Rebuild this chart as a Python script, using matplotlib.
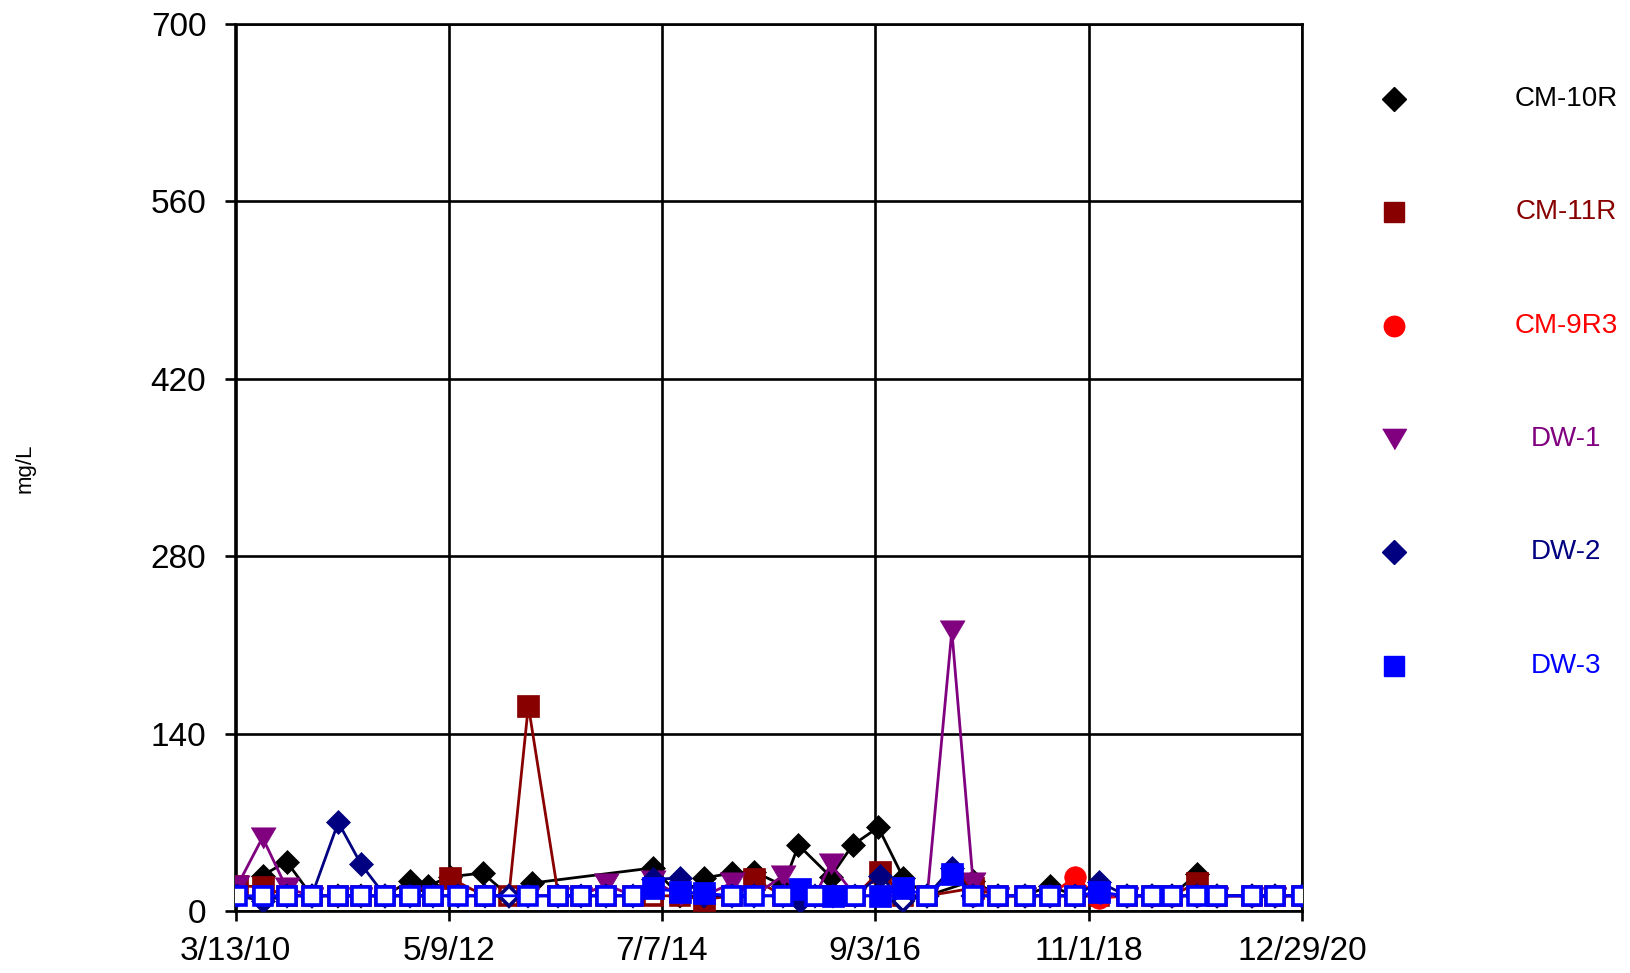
import numpy as np
import pandas as pd
import matplotlib
matplotlib.use("Agg")
import matplotlib.pyplot as plt
from matplotlib.lines import Line2D

plt.rcParams["font.family"] = ["Liberation Sans", "DejaVu Sans"]

# ---------------------------------------------------------------------------
# DATA  (values in mg/L, "<x" = non-detect plotted hollow at x)
# ---------------------------------------------------------------------------

cm10r_dates = ["2010-06-21", "2010-09-18", "2010-12-20", "2011-03-28", "2011-06-20",
               "2011-09-17", "2011-12-18", "2012-02-24", "2012-05-14", "2012-09-12",
               "2012-12-18", "2013-03-12", "2014-06-03", "2014-09-12", "2014-12-11",
               "2015-03-22", "2015-06-13", "2015-09-29", "2015-11-24", "2016-03-22",
               "2016-06-11", "2016-09-14", "2016-12-16", "2017-03-14", "2017-08-31",
               "2017-12-02", "2018-03-10", "2018-06-11", "2018-09-11", "2018-12-10",
               "2019-03-21", "2019-06-22", "2019-09-04", "2019-12-05", "2020-02-17",
               "2020-06-26", "2020-09-20", "2020-12-29"]
cm10r_vals = [28, 39, "<12", "<12", "<12", "<12", 24, 20, 27, 30,
              "<12", 22, 34, "<12", 26, 30, 31, 20, 52, 27,
              52, 66, 26, "<12", 24, "<12", "<12", 20, "<12", "<12",
              "<12", "<12", "<12", 29, "<12", "<12", "<12", "<12"]

cm11r_dates = ["2010-03-20", "2010-06-21", "2010-09-18", "2010-12-20", "2011-03-28",
               "2011-06-20", "2011-09-17", "2011-12-18", "2012-03-12", "2012-05-14",
               "2012-09-19", "2012-12-18", "2013-02-28", "2013-06-19", "2013-09-10",
               "2013-12-12", "2014-03-21", "2014-06-03", "2014-09-12", "2014-12-11",
               "2015-03-22", "2015-06-13", "2015-09-29", "2015-11-30", "2016-01-24",
               "2016-04-01", "2016-06-20", "2016-09-20", "2016-12-16", "2017-03-14",
               "2017-08-31", "2017-12-02", "2018-03-10", "2018-06-11",
               "2018-09-11", "2018-12-10", "2019-03-21", "2019-06-22", "2019-09-04",
               "2019-12-05", "2020-02-17", "2020-06-26", "2020-09-20", "2020-12-29"]
cm11r_vals = [20, 19, "<12", "<12", "<12", "<12", "<12", "<12", "<12", 26,
              "<12", "<12", 162, "<12", "<12", "<12", "<12", "<12", "<12", 9,
              "<12", 25, "<12", "<12", "<12", "<12", "<12", 31, "<12", "<12",
              18, "<12", "<12", "<12", "<12", "<12", "<12", "<12", "<12",
              22, "<12", "<12", "<12", "<12"]

cm9r3_dates = ["2017-08-31", "2017-12-02", "2018-03-10", "2018-06-11", "2018-09-11",
               "2018-12-10", "2019-03-21", "2019-06-22", "2019-09-04", "2019-12-05",
               "2020-02-17", "2020-06-26", "2020-09-20", "2020-12-29"]
cm9r3_vals = ["<12", "<12", "<12", "<12", 27, 10,
              "<12", "<12", "<12", "<12", "<12", "<12", "<12", "<12"]

dw1_dates = ["2010-03-20", "2010-06-21", "2010-09-18", "2010-12-20", "2011-03-28",
             "2011-06-20", "2011-09-17", "2011-12-18", "2012-03-12", "2012-06-12",
             "2012-09-19", "2013-02-28", "2013-06-19", "2013-09-10", "2013-12-12",
             "2014-03-21", "2014-06-03", "2014-09-12", "2014-12-11", "2015-03-22",
             "2015-06-13", "2015-09-29", "2015-11-30", "2016-01-24", "2016-03-22",
             "2016-06-20", "2016-09-20", "2016-12-16", "2017-03-14", "2017-06-13",
             "2017-08-31", "2017-12-02", "2018-03-10", "2018-06-11", "2018-09-11",
             "2018-12-10", "2019-03-21", "2019-06-22", "2019-09-04", "2019-12-05",
             "2020-02-17", "2020-06-26", "2020-09-20", "2020-12-29"]
dw1_vals = [20, 58, 18, "<12", "<12", "<12", "<12", "<12", "<12", "<12",
            "<12", "<12", "<12", "<12", 21, "<12", 24, "<12", "<12", 22,
            "<12", 28, "<12", "<12", 37, "<12", "<12", "<12", "<12", 221,
            22, "<12", "<12", "<12", "<12", "<12", "<12", "<12", "<12", "<12",
            "<12", "<12", "<12", "<12"]

dw2_dates = ["2010-03-20", "2010-06-21", "2010-09-18", "2010-12-20", "2011-03-28",
             "2011-06-20", "2011-09-17", "2011-12-18", "2012-03-12", "2012-06-12",
             "2012-09-19", "2012-12-18", "2013-02-28", "2013-06-19", "2013-09-10",
             "2013-12-12", "2014-03-21", "2014-06-03", "2014-09-12", "2014-12-11",
             "2015-03-22", "2015-06-13", "2015-09-29", "2015-11-30", "2016-01-24",
             "2016-04-01", "2016-06-20", "2016-09-20", "2016-12-16", "2017-03-14",
             "2017-06-13", "2017-08-31", "2017-12-02", "2018-03-10", "2018-06-11",
             "2018-09-11", "2018-12-10", "2019-03-21", "2019-06-22", "2019-09-04",
             "2019-12-05", "2020-02-17", "2020-06-26", "2020-09-20", "2020-12-29"]
dw2_vals = ["<12", 8, "<12", "<12", 70, 37, "<12", "<12", "<12", "<12",
            "<12", "<12", "<12", "<12", "<12", "<12", "<12", 25, 26, "<12",
            "<12", "<12", "<12", 8, "<12", "<12", "<12", 28, "<8", "<12",
            34, "<12", "<12", "<12", "<12", "<12", 23, "<12", "<12", "<12",
            "<12", "<12", "<12", "<12", "<12"]

dw3_dates = ["2010-03-20", "2010-06-21", "2010-09-18", "2010-12-20", "2011-03-28",
             "2011-06-20", "2011-09-17", "2011-12-18", "2012-03-12", "2012-06-12",
             "2012-09-19", "2013-02-28", "2013-06-19", "2013-09-10", "2013-12-12",
             "2014-03-21", "2014-06-03", "2014-09-12", "2014-12-11", "2015-03-22",
             "2015-06-13", "2015-09-29", "2015-11-30", "2016-01-24", "2016-04-01",
             "2016-06-20", "2016-09-20", "2016-12-16", "2017-03-14", "2017-06-13",
             "2017-08-31", "2017-12-02", "2018-03-10", "2018-06-11", "2018-09-11",
             "2018-12-10", "2019-03-21", "2019-06-22", "2019-09-04", "2019-12-05",
             "2020-02-17", "2020-06-26", "2020-09-20", "2020-12-29"]
dw3_vals = ["<12", "<12", "<12", "<12", "<12", "<12", "<12", "<12", "<12", "<12",
            "<12", "<12", "<12", "<12", "<12", "<12", 18, 15, 14, "<12",
            "<12", "<12", 17, "<12", 12, "<12", 12, 18, "<12", 29,
            "<12", "<12", "<12", "<12", "<12", 15, "<12", "<12", "<12", "<12",
            "<12", "<12", "<12", "<12"]

series_names = ["CM-10R", "CM-11R", "CM-9R3", "DW-1", "DW-2", "DW-3"]
xtick_labels = ["3/13/10", "5/9/12", "7/7/14", "9/3/16", "11/1/18", "12/29/20"]
yticks = [0, 140, 280, 420, 560, 700]

# ---------------------------------------------------------------------------
# STYLE
# ---------------------------------------------------------------------------

TRI = [(-1, 0.85), (1, 0.85), (0, -0.85)]   # flat downward triangle
styles = {
    "CM-10R": dict(color="#000000", marker="D", ms=12.5, ms_nd=10),
    "CM-11R": dict(color="#880000", marker="s", ms=15.5, ms_nd=13),
    "CM-9R3": dict(color="#FF0000", marker="o", ms=15.5, ms_nd=13),
    "DW-1":   dict(color="#800080", marker=TRI, ms=18, ms_nd=14),
    "DW-2":   dict(color="#000080", marker="D", ms=12.5, ms_nd=10),
    "DW-3":   dict(color="#0000FF", marker="s", ms=15.5, ms_nd=13),
}
data = {
    "CM-10R": (cm10r_dates, cm10r_vals),
    "CM-11R": (cm11r_dates, cm11r_vals),
    "CM-9R3": (cm9r3_dates, cm9r3_vals),
    "DW-1":   (dw1_dates, dw1_vals),
    "DW-2":   (dw2_dates, dw2_vals),
    "DW-3":   (dw3_dates, dw3_vals),
}


def parse(vals):
    y, nd = [], []
    for v in vals:
        if isinstance(v, str):
            y.append(float(v.lstrip("<")))
            nd.append(True)
        else:
            y.append(float(v))
            nd.append(False)
    return np.array(y), np.array(nd)


# ---------------------------------------------------------------------------
# PLOT
# ---------------------------------------------------------------------------

fig = plt.figure(figsize=(16.31, 9.73), dpi=100)
ax = fig.add_axes([235.5 / 1631, 1 - 911 / 973, 1066.5 / 1631, 887 / 973])

for i, name in enumerate(series_names):
    st = styles[name]
    dates, vals = data[name]
    x = pd.to_datetime(dates)
    y, nd = parse(vals)
    z = 3 + i
    ax.plot(x, y, color=st["color"], lw=2, zorder=z)
    ax.plot(x[~nd], y[~nd], ls="none", marker=st["marker"], ms=st["ms"],
            mfc=st["color"], mec=st["color"], mew=0.5, zorder=z + 0.5)
    ax.plot(x[nd], y[nd], ls="none", marker=st["marker"], ms=st["ms_nd"],
            mfc="white", mec=st["color"], mew=2.6, zorder=z + 0.5)

xt = pd.to_datetime(xtick_labels, format="%m/%d/%y")
ax.set_xlim(xt[0], xt[-1])
ax.set_xticks(xt)
ax.set_xticklabels(xtick_labels)
ax.set_ylim(0, 700)
ax.set_yticks(yticks)
ax.set_yticklabels([str(v) for v in yticks])

ax.grid(True, color="black", lw=1.9)
ax.set_axisbelow(True)
for sp in ax.spines.values():
    sp.set_color("black")
    sp.set_linewidth(1.9)
ax.tick_params(axis="both", direction="out", length=7, width=1.9,
               labelsize=24, color="black")
ax.tick_params(axis="x", pad=11)
ax.tick_params(axis="y", pad=14)

fig.text(25 / 1631, 1 - 468 / 973, "mg/L", rotation=90, ha="center",
         va="center", fontsize=16)

# legend drawn beside the plot: marker column and centred coloured labels
leg_y = [98.8, 212, 325.6, 439, 552, 666]
for name, yy in zip(series_names, leg_y):
    st = styles[name]
    fy = 1 - yy / 973
    fig.add_artist(Line2D([1394 / 1631], [fy], transform=fig.transFigure,
                          ls="none", marker=st["marker"], ms=st["ms"] * 0.95,
                          mfc=st["color"], mec=st["color"]))
    fig.text(1566 / 1631, fy, name, color=st["color"], fontsize=20,
             ha="center", va="center")

fig.savefig("out.png", dpi=100)
